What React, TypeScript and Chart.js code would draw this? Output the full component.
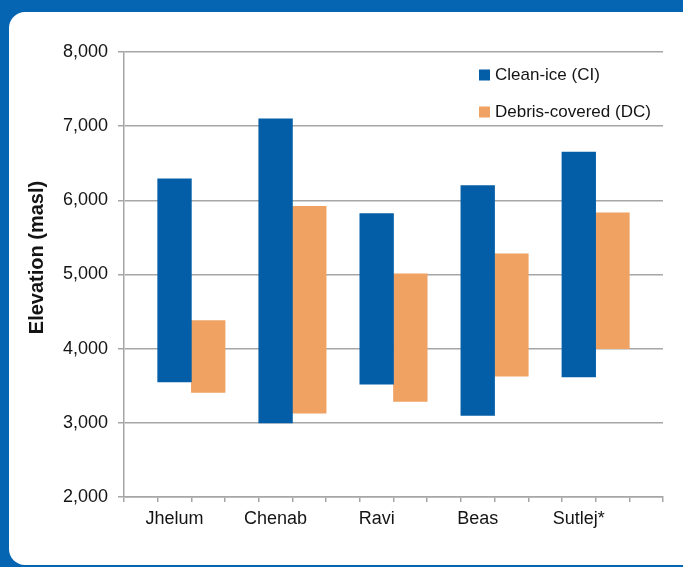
import React, { useEffect, useRef } from 'react';
import { Chart, registerables } from 'chart.js';

Chart.register(...registerables);

// ---- data ----
const rivers = ['Jhelum', 'Chenab', 'Ravi', 'Beas', 'Sutlej*'];
const cleanIceLow = [3550, 3000, 3520, 3100, 3620];
const cleanIceHigh = [6290, 7100, 5820, 6200, 6650];
const debrisLow = [3410, 3130, 3290, 3630, 4000];
const debrisHigh = [4380, 5920, 5010, 5280, 5830];
const seriesLabels = ['Clean-ice (CI)', 'Debris-covered (DC)'];
const seriesColors = ['#045EA7', '#F0A262'];
const yMin = 2000;
const yMax = 8000;
const yStep = 1000;
const yTitle = 'Elevation (masl)';

// ---- styling ----
const FONT = '"Liberation Sans", Arial, Helvetica, sans-serif';
const TEXT = '#141414';
const GRID = '#a6a6a6';
const FRAME = '#0565B2';

// category axis: one empty slot, then [CI, DC, empty] per river
const SLOTS = 3;
const slotCount = 1 + rivers.length * SLOTS;
const slotLabels: string[] = Array.from({ length: slotCount }, () => '');
const ciData: (number[] | null)[] = Array.from({ length: slotCount }, () => null);
const dcData: (number[] | null)[] = Array.from({ length: slotCount }, () => null);
rivers.forEach((r, i) => {
  slotLabels[1 + i * SLOTS] = r;
  ciData[1 + i * SLOTS] = [cleanIceLow[i], cleanIceHigh[i]];
  dcData[2 + i * SLOTS] = [debrisLow[i], debrisHigh[i]];
});

const overlayPlugin = {
  id: 'overlay',
  afterDraw(chart: any) {
    const { ctx, chartArea } = chart;
    // y-axis title
    ctx.save();
    ctx.translate(chartArea.left - 87, (chartArea.top + chartArea.bottom) / 2 - 17);
    ctx.rotate(-Math.PI / 2);
    ctx.font = `bold 20px ${FONT}`;
    ctx.fillStyle = TEXT;
    ctx.textAlign = 'center';
    ctx.textBaseline = 'middle';
    ctx.fillText(yTitle, 0, 0);
    ctx.restore();
    // legend
    ctx.save();
    chart.data.datasets.forEach((ds: any, i: number) => {
      const x = chartArea.right - 184;
      const y = chartArea.top + 23 + i * 37;
      ctx.fillStyle = ds.backgroundColor;
      ctx.fillRect(x, y - 5.5, 11, 11);
      ctx.font = `17px ${FONT}`;
      ctx.fillStyle = TEXT;
      ctx.textAlign = 'left';
      ctx.textBaseline = 'middle';
      ctx.fillText(ds.label, x + 16, y);
    });
    ctx.restore();
  },
};

function ChartView() {
  const ref = useRef<HTMLCanvasElement | null>(null);
  useEffect(() => {
    if (!ref.current) return;
    const chart = new Chart(ref.current, {
      type: 'bar',
      data: {
        labels: slotLabels,
        datasets: [
          { label: seriesLabels[0], data: ciData as any, backgroundColor: seriesColors[0] },
          { label: seriesLabels[1], data: dcData as any, backgroundColor: seriesColors[1] },
        ],
      },
      options: {
        responsive: false,
        animation: false,
        layout: { padding: { top: 52, right: 20, bottom: 0, left: 0 } },
        datasets: { bar: { grouped: false, barPercentage: 1, categoryPercentage: 1 } } as any,
        plugins: { legend: { display: false }, tooltip: { enabled: false } },
        scales: {
          x: {
            offset: true,
            grid: { display: true, offset: true, drawOnChartArea: false, drawTicks: true, tickLength: 5, color: GRID, lineWidth: 1.5 },
            border: { display: true, color: GRID, width: 1.5 },
            ticks: { autoSkip: false, maxRotation: 0, minRotation: 0, padding: 6, color: TEXT, font: { family: FONT, size: 18 } },
            afterFit: (s: any) => { s.height = 70; },
          },
          y: {
            min: yMin,
            max: yMax,
            ticks: {
              stepSize: yStep,
              padding: 10,
              color: TEXT,
              font: { family: FONT, size: 18 },
              callback: (v: any) => Number(v).toLocaleString('en-US'),
            },
            grid: { color: GRID, lineWidth: 1.5, tickLength: 6 },
            border: { display: true, color: GRID, width: 1.5 },
            afterFit: (s: any) => { s.width = 124; },
          },
        },
      },
      plugins: [overlayPlugin],
    });
    return () => chart.destroy();
  }, []);
  return <canvas ref={ref} width={683} height={567} style={{ position: 'absolute', left: 0, top: 0, display: 'block' }} />;
}

export default function App() {
  return (
    <div style={{ position: 'fixed', left: 0, top: 0, width: 683, height: 567, background: FRAME, overflow: 'hidden' }}>
      <div style={{ position: 'absolute', left: 9, top: 12, width: 700, height: 553, background: '#ffffff', borderRadius: 16 }} />
      <ChartView />
    </div>
  );
}
